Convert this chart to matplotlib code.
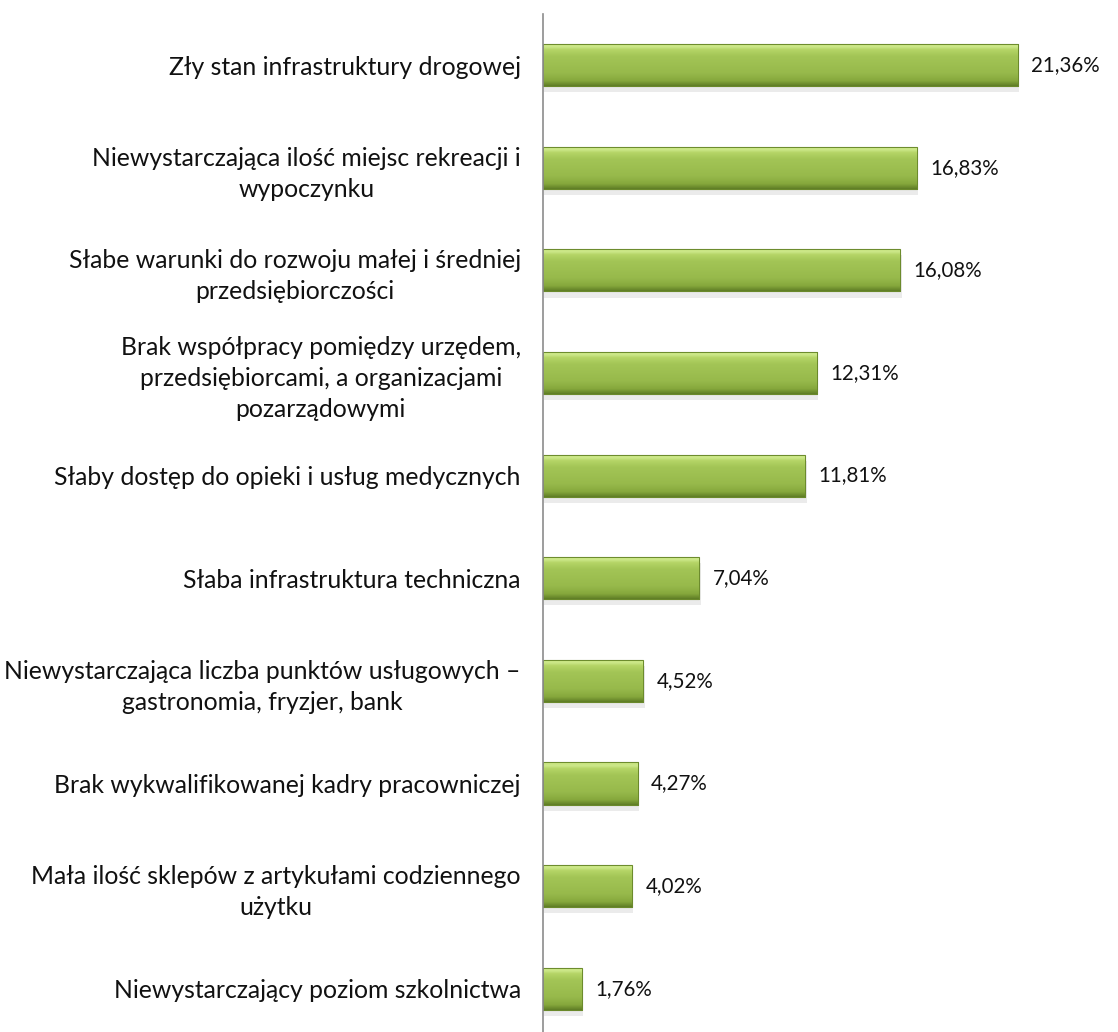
import numpy as np
import matplotlib.pyplot as plt
from matplotlib.colors import LinearSegmentedColormap

plt.rcParams['font.family'] = ['Lato', 'DejaVu Sans']

kategorie = [
    "Zły stan infrastruktury drogowej",
    "Niewystarczająca ilość miejsc rekreacji i\nwypoczynku",
    "Słabe warunki do rozwoju małej i średniej\nprzedsiębiorczości",
    "Brak współpracy pomiędzy urzędem,\nprzedsiębiorcami, a organizacjami\npozarządowymi",
    "Słaby dostęp do opieki i usług medycznych",
    "Słaba infrastruktura techniczna",
    "Niewystarczająca liczba punktów usługowych –\ngastronomia, fryzjer, bank",
    "Brak wykwalifikowanej kadry pracowniczej",
    "Mała ilość sklepów z artykułami codziennego\nużytku",
    "Niewystarczający poziom szkolnictwa",
]
wartosci = [21.36, 16.83, 16.08, 12.31, 11.81, 7.04, 4.52, 4.27, 4.02, 1.76]
etykiety = ["21,36%", "16,83%", "16,08%", "12,31%", "11,81%",
            "7,04%", "4,52%", "4,27%", "4,02%", "1,76%"]

fig = plt.figure(figsize=(11.18, 10.32), dpi=100)
ax = fig.add_axes([0.4857, -0.0078, 0.497, 0.9945])

y = np.arange(len(kategorie))
# gradient: ciemny dol, jasny pasek u gory
gradient = LinearSegmentedColormap.from_list(
    "ziel", [(0.0, "#5f7d26"), (0.12, "#86a83c"), (0.3, "#97b94b"),
             (0.7, "#a3c556"), (0.85, "#b5d567"), (0.92, "#cde88a"),
             (1.0, "#c2df78")])
grad = np.linspace(0, 1, 200).reshape(-1, 1)

# cien pod slupkami
ax.barh(y + 0.06, wartosci, height=0.41, left=0.05, color="#000000",
        alpha=0.08, linewidth=0, zorder=1)
slupki = ax.barh(y, wartosci, height=0.41, color="#9bbb59",
                 edgecolor="#5f7d26", linewidth=0.8, zorder=2)
for b in slupki:
    x0, y0 = b.get_x(), b.get_y()
    w, h = b.get_width(), b.get_height()
    im = ax.imshow(grad, cmap=gradient, aspect="auto",
                   extent=[x0, x0 + w, y0 + h, y0], origin="lower", zorder=3)
    im.set_clip_path(b)
    ax.add_patch(plt.Rectangle((x0, y0), w, h, fill=False,
                               edgecolor="#6b8a2c", linewidth=0.7, zorder=4))

for yy, v, t in zip(y, wartosci, etykiety):
    ax.text(v + 0.6, yy, t, va="center", ha="left", fontsize=14.8,
            color="#111111")

ax.set_xlim(0, 25)
ax.set_ylim(9.5, -0.5)
ax.set_yticks(y)
ax.set_yticklabels(kategorie, fontsize=17.8, color="#111111",
                   linespacing=1.42)
for lab in ax.get_yticklabels():
    lab.set_multialignment("center")
ax.tick_params(axis="y", length=0, pad=16)
ax.set_xticks([])
for s in ["top", "right", "bottom"]:
    ax.spines[s].set_visible(False)
ax.spines["left"].set_color("#8c8c8c")
ax.spines["left"].set_linewidth(1.2)
ax.spines["left"].set_zorder(5)

fig.savefig("out.png", dpi=100)
